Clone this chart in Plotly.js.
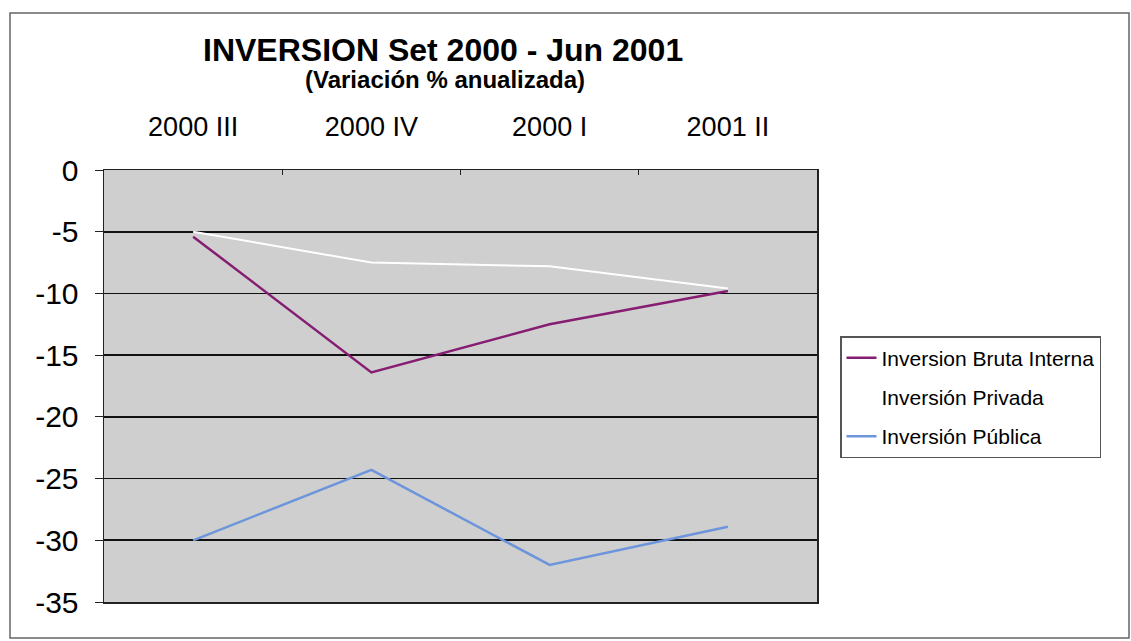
<!DOCTYPE html>
<html>
<head>
<meta charset="utf-8">
<script src="https://cdn.plot.ly/plotly-3.0.1.min.js"></script>
<style>html,body{margin:0;padding:0;background:#fff;}#chart{width:1131px;height:641px;}</style>
</head>
<body>
<div id="chart"></div>
<script>
const categories = ["2000 III", "2000 IV", "2000 I", "2001 II"];
const bruta = [-5.4, -16.4, -12.5, -9.8];
const privada = [-5.0, -7.5, -7.8, -9.6];
const publica = [-30.0, -24.3, -32.0, -28.9];
const yTicks = [0, -5, -10, -15, -20, -25, -30, -35];

const FONT = "Liberation Sans, Arial, sans-serif";
const L = 104, R = 817, T = 170, B = 602;
const PW = R - L, PH = B - T;

const traces = [
  {x: categories, y: bruta, name: "Inversion Bruta Interna", type: "scatter", mode: "lines",
   legendgroup: "a", line: {color: "#861d72", width: 2.5}},
  {x: categories, y: privada, name: "Inversión Privada", type: "scatter", mode: "lines",
   legendgroup: "b", line: {color: "#ffffff", width: 2}},
  {x: categories, y: publica, name: "Inversión Pública", type: "scatter", mode: "lines",
   legendgroup: "c", line: {color: "#6d95dc", width: 2.5}}
];

const layout = {
  width: 1131, height: 641,
  margin: {l: L, r: 1131 - R, t: T, b: 641 - B, pad: 0},
  paper_bgcolor: "#ffffff",
  plot_bgcolor: "#cfcfcf",
  font: {family: FONT, color: "#000"},
  showlegend: true,
  legend: {x: (840 - L) / PW, xanchor: "left", y: (B - 336) / PH, yanchor: "top",
    bgcolor: "#ffffff", bordercolor: "#555", borderwidth: 1.5,
    font: {family: FONT, size: 21, color: "#000"}, tracegroupgap: 9,
    traceorder: "grouped"},
  xaxis: {type: "category", range: [-0.5, 3.5], side: "top", showgrid: false, zeroline: false,
    showline: true, linecolor: "#222", linewidth: 1.5, mirror: true,
    ticks: "inside", tickson: "boundaries", ticklen: 5, tickcolor: "#222",
    ticklabelstandoff: 22,
    tickfont: {family: FONT, size: 27, color: "#000"}, fixedrange: true},
  yaxis: {range: [-35, 0], tickvals: yTicks, ticktext: yTicks.map(String),
    showgrid: true, gridcolor: "#111", gridwidth: 1.8, zeroline: false,
    showline: true, linecolor: "#222", linewidth: 1.5, mirror: true,
    ticks: "outside", ticklen: 8, tickcolor: "#222",
    ticklabelstandoff: 10,
    tickfont: {family: FONT, size: 30, color: "#000"}, fixedrange: true},
  annotations: [
    {text: "<b>INVERSION Set 2000 - Jun 2001</b>", xref: "paper", yref: "paper",
     x: (443 - L) / PW, y: (B - 50) / PH, xanchor: "center", yanchor: "middle",
     showarrow: false, font: {family: FONT, size: 32, color: "#000"}},
    {text: "<b>(Variación % anualizada)</b>", xref: "paper", yref: "paper",
     x: (445 - L) / PW, y: (B - 79) / PH, xanchor: "center", yanchor: "middle",
     showarrow: false, font: {family: FONT, size: 24, color: "#000"}}
  ],
  shapes: [
    {type: "rect", xref: "paper", yref: "paper",
     x0: (10 - L) / PW, x1: (1129 - L) / PW, y0: (B - 638) / PH, y1: (B - 13) / PH,
     line: {color: "#666", width: 1.5}, fillcolor: "rgba(0,0,0,0)", layer: "below"}
  ]
};

Plotly.newPlot("chart", traces, layout, {displayModeBar: false, staticPlot: true});
</script>
</body>
</html>
